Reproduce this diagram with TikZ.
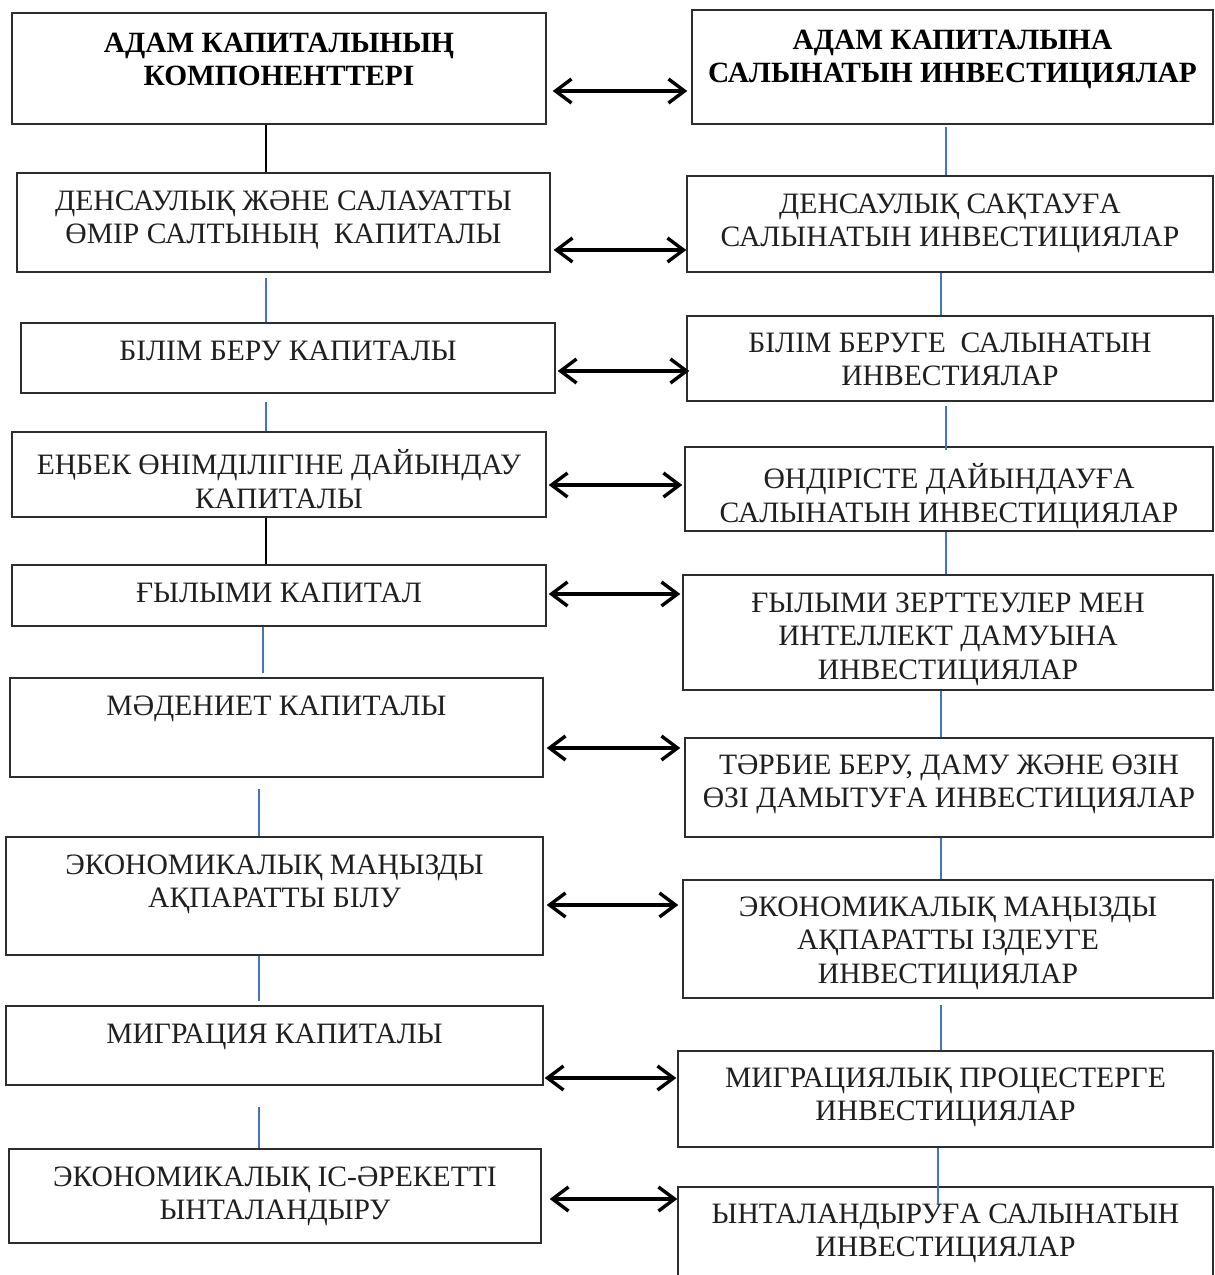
\documentclass[tikz,border=0pt]{standalone}
\usepackage{fontspec}
\setmainfont{Liberation Serif}
\usepackage{tikz}
\usetikzlibrary{arrows.meta, positioning, fit, calc}
\usepackage{xcolor}

\definecolor{linkblue}{RGB}{68,114,196}
\definecolor{boxgray}{RGB}{45,45,45}

\tikzset{
  cell/.style={draw=boxgray, line width=0.7pt, inner sep=0pt, rectangle},
  txt/.style={inner sep=0pt, align=center, text=black!88, font=\fontsize{14.8}{16.8}\selectfont},
  head/.style={txt, text=black, font=\fontsize{14.7}{16.8}\selectfont\bfseries},
  pair/.style={line width=1.7pt, {Straight Barb[length=8pt,width=12pt]}-{Straight Barb[length=8pt,width=12pt]}},
  bline/.style={line width=1pt, black},
  uline/.style={line width=0.8pt, linkblue}
}

\begin{document}
\begin{tikzpicture}[x=0.5pt, y=-0.5pt]
      \useasboundingbox (0,0) rectangle (1215,1275);

      % left column
      \node[cell, fit={(12,13) (546,124)}] (l1) {};
      \node[cell, fit={(17,173) (550,272)}] (l2) {};
      \node[cell, fit={(21,323) (555,393)}] (l3) {};
      \node[cell, fit={(12,432) (546,517)}] (l4) {};
      \node[cell, fit={(12,565) (546,626)}] (l5) {};
      \node[cell, fit={(10,678) (543,777)}] (l6) {};
      \node[cell, fit={(6,837) (543,955)}] (l7) {};
      \node[cell, fit={(6,1006) (543,1085)}] (l8) {};
      \node[cell, fit={(9,1149) (541,1243)}] (l9) {};

      \node[head, below=10pt of l1.north] (l1t) {АДАМ КАПИТАЛЫНЫҢ\\КОМПОНЕНТТЕРІ};
      \node[txt, below=9pt of l2.north] (l2t) {ДЕНСАУЛЫҚ ЖӘНЕ САЛАУАТТЫ\\ӨМІР САЛТЫНЫҢ\ \ КАПИТАЛЫ};
      \node[txt, below=9pt of l3.north] (l3t) {БІЛІМ БЕРУ КАПИТАЛЫ};
      \node[txt, below=9pt of l4.north] (l4t) {ЕҢБЕК ӨНІМДІЛІГІНЕ ДАЙЫНДАУ\\КАПИТАЛЫ};
      \node[txt, below=9pt of l5.north] (l5t) {ҒЫЛЫМИ КАПИТАЛ};
      \node[txt, below=9pt of l6.north] (l6t) {МӘДЕНИЕТ КАПИТАЛЫ};
      \node[txt, below=9pt of l7.north] (l7t) {ЭКОНОМИКАЛЫҚ МАҢЫЗДЫ\\АҚПАРАТТЫ БІЛУ};
      \node[txt, below=9pt of l8.north] (l8t) {МИГРАЦИЯ КАПИТАЛЫ};
      \node[txt, below=9pt of l9.north] (l9t) {ЭКОНОМИКАЛЫҚ ІС-ӘРЕКЕТТІ\\ЫНТАЛАНДЫРУ};

      % right column
      \node[cell, fit={(692,10) (1213,124)}] (r1) {};
      \node[cell, fit={(687,176) (1213,272)}] (r2) {};
      \node[cell, fit={(687,316) (1213,401)}] (r3) {};
      \node[cell, fit={(685,447) (1213,531)}] (r4) {};
      \node[cell, fit={(683,575) (1213,690)}] (r5) {};
      \node[cell, fit={(685,738) (1213,837)}] (r6) {};
      \node[cell, fit={(683,880) (1213,998)}] (r7) {};
      \node[cell, fit={(678,1051) (1213,1147)}] (r8) {};
      \node[cell, fit={(678,1187) (1213,1300)}] (r9) {};

      \node[head, below=10pt of r1.north] (r1t) {АДАМ КАПИТАЛЫНА\\САЛЫНАТЫН ИНВЕСТИЦИЯЛАР};
      \node[txt, below=9pt of r2.north] (r2t) {ДЕНСАУЛЫҚ САҚТАУҒА\\САЛЫНАТЫН ИНВЕСТИЦИЯЛАР};
      \node[txt, below=8.5pt of r3.north] (r3t) {БІЛІМ БЕРУГЕ\ \ САЛЫНАТЫН\\ИНВЕСТИЯЛАР};
      \node[txt, below=8.5pt of r4.north] (r4t) {ӨНДІРІСТЕ ДАЙЫНДАУҒА\\САЛЫНАТЫН ИНВЕСТИЦИЯЛАР};
      \node[txt, below=9pt of r5.north] (r5t) {ҒЫЛЫМИ ЗЕРТТЕУЛЕР МЕН\\ИНТЕЛЛЕКТ ДАМУЫНА\\ИНВЕСТИЦИЯЛАР};
      \node[txt, below=8.5pt of r6.north] (r6t) {ТӘРБИЕ БЕРУ, ДАМУ ЖӘНЕ ӨЗІН\\ӨЗІ ДАМЫТУҒА ИНВЕСТИЦИЯЛАР};
      \node[txt, below=8.5pt of r7.north] (r7t) {ЭКОНОМИКАЛЫҚ МАҢЫЗДЫ\\АҚПАРАТТЫ ІЗДЕУГЕ\\ИНВЕСТИЦИЯЛАР};
      \node[txt, below=8.5pt of r8.north] (r8t) {МИГРАЦИЯЛЫҚ ПРОЦЕСТЕРГЕ\\ИНВЕСТИЦИЯЛАР};
      \node[txt, below=8.5pt of r9.north] (r9t) {ЫНТАЛАНДЫРУҒА САЛЫНАТЫН\\ИНВЕСТИЦИЯЛАР};

      % links inside the columns
      \draw[bline] (l1.south -| 266,0) -- (l2.north -| 266,0);
      \draw[uline, shorten <=2.5pt] (l2.south -| 266,0) -- (l3.north -| 266,0);
      \draw[uline, shorten <=4pt] (l3.south -| 266,0) -- (l4.north -| 266,0);
      \draw[bline] (l4.south -| 266,0) -- (l5.north -| 266,0);
      \draw[uline, shorten >=2pt] (l5.south -| 263,0) -- (l6.north -| 263,0);
      \draw[uline, shorten <=5.5pt] (l6.south -| 259,0) -- (l7.north -| 259,0);
      \draw[uline, shorten >=2pt] (l7.south -| 259,0) -- (l8.north -| 259,0);
      \draw[uline, shorten <=10.5pt] (l8.south -| 259,0) -- (l9.north -| 259,0);

      \draw[uline, shorten <=1pt] (r1.south -| 946,0) -- (r2.north -| 946,0);
      \draw[uline] (r2.south -| 941,0) -- (r3.north -| 941,0);
      \draw[uline, shorten <=2pt, shorten >=-2pt] (r3.south -| 946,0) -- (r4.north -| 946,0);
      \draw[uline] (r4.south -| 946,0) -- (r5.north -| 946,0);
      \draw[uline] (r5.south -| 941,0) -- (r6.north -| 941,0);
      \draw[uline] (r6.south -| 941,0) -- (r7.north -| 941,0);
      \draw[uline, shorten <=3pt] (r7.south -| 941,0) -- (r8.north -| 941,0);
      \draw[uline, shorten >=-9pt] (r8.south -| 938,0) -- (r9.north -| 938,0);

      % two-way arrows
      \draw[pair, shorten <=3pt, shorten >=2pt] (l1.east |- 0,91) -- (r1.west |- 0,91);
      \draw[pair, shorten <=1.5pt] (l2.east |- 0,250) -- (r2.west |- 0,250);
      \draw[pair, shorten <=1pt, shorten >=-1.5pt] (l3.east |- 0,371) -- (r3.west |- 0,371);
      \draw[pair, shorten <=1pt, shorten >=1pt] (l4.east |- 0,485) -- (r4.west |- 0,485);
      \draw[pair, shorten <=1pt, shorten >=1pt] (l5.east |- 0,594) -- (r5.west |- 0,594);
      \draw[pair, shorten <=1.5pt, shorten >=2pt] (l6.east |- 0,748) -- (r6.west |- 0,748);
      \draw[pair, shorten <=1.5pt, shorten >=2pt] (l7.east |- 0,905) -- (r7.west |- 0,905);
      \draw[pair, shorten <=0.5pt, shorten >=0.5pt] (l8.east |- 0,1078) -- (r8.west |- 0,1078);
      \draw[pair, shorten <=4pt, shorten >=0pt] (l9.east |- 0,1199) -- (r9.west |- 0,1199);

    \end{tikzpicture}
\end{document}
